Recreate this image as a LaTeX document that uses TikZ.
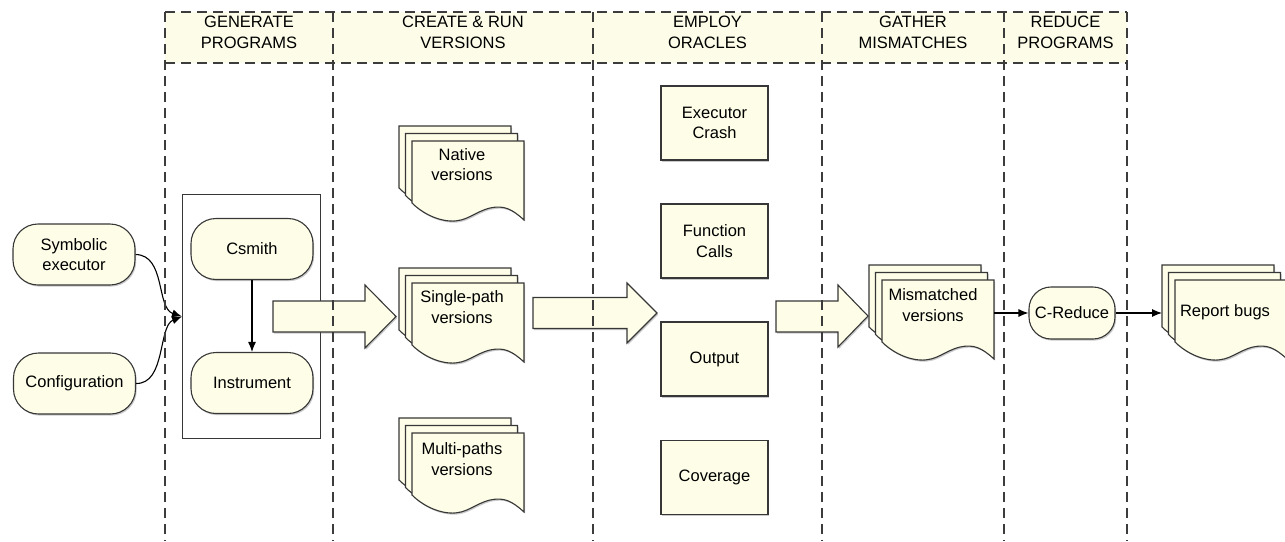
\documentclass[tikz,border=0pt]{standalone}
\usepackage{fontspec}
\setmainfont{Liberation Sans}
\usetikzlibrary{arrows.meta,shadows}

\definecolor{cream}{RGB}{253,253,232}
\definecolor{headfill}{RGB}{252,252,232}
\definecolor{edge}{RGB}{55,55,55}
\definecolor{lane}{RGB}{60,60,60}

\tikzset{
  txt/.style={font=\fontsize{16.5}{20.5}\selectfont, align=center, text=black},
  soft/.style={drop shadow={shadow xshift=1.2pt, shadow yshift=-1.6pt, opacity=0.3, fill=black!70}},
  shapeline/.style={draw=edge, line width=1.1pt, fill=cream},
  pill/.style={shapeline, soft, txt, rounded corners=25pt, minimum width=122pt, minimum height=61pt, inner sep=0pt},
  oracle/.style={shapeline, soft, txt, minimum width=107pt, minimum height=74pt, inner sep=0pt},
  blockarrow/.style={shapeline, soft},
  sheet/.style={shapeline, soft},
  lanestyle/.style={draw=lane, line width=1.5pt, dash pattern=on 10pt off 6pt},
  conn/.style={draw=black, line width=1.1pt, -{Latex[length=10pt,width=8pt]}},
  frame/.style={draw=edge, line width=1.1pt, inner sep=0pt},
}

% one sheet of a document stack, top-left corner at (#1,#2)
\newcommand\onesheet[2]{%
  \path[sheet] (#1,#2) -- ++(112,0) -- ++(0,79)
    .. controls ++(-12,-11) and ++(14,-3) .. ++(-34,-12)
    .. controls ++(-16,4) and ++(17,1) .. ++(-40,13)
    .. controls ++(-16,-1) and ++(8,8) .. ++(-38,-18) -- cycle;}

% stack of three sheets, front sheet top-left at (#2,#3); nodes #1 and #1-b
\newcommand\docstack[3]{%
  \onesheet{#2-13}{#3-15}
  \onesheet{#2-6.5}{#3-7.5}
  \onesheet{#2}{#3}
  \node[inner sep=0pt, minimum width=112pt, minimum height=79pt, anchor=north west] (#1) at (#2,#3) {};
  \node[inner sep=0pt, minimum width=112pt, minimum height=79pt, anchor=north west] (#1-b) at (#2-13,#3-15) {};}

\begin{document}
\begin{tikzpicture}[x=1pt, y=-1pt]
\useasboundingbox (0,0) rectangle (1285,541);

% lane headers
\fill[headfill] (165,12) rectangle (1127,63);
\node[txt] (h1) at (249,32.5) {GENERATE\\PROGRAMS};
\node[txt] (h2) at (463,32.5) {CREATE \& RUN\\VERSIONS};
\node[txt] (h3) at (707.5,32.5) {EMPLOY\\ORACLES};
\node[txt] (h4) at (913,32.5) {GATHER\\MISMATCHES};
\node[txt] (h5) at (1065.5,32.5) {REDUCE\\PROGRAMS};

% inputs
\node[pill] (sym) at (74,254.5) {Symbolic\\executor};
\node[pill] (conf) at (74.5,383.5) {Configuration};

% generation box
\node[frame, minimum width=138pt, minimum height=244pt, anchor=north west] (gen) at (182,194) {};
\node[pill] (cs) at (252,249) {Csmith};
\node[pill] (ins) at (252,383) {Instrument};
\draw[conn] (cs) -- (ins);

\draw[conn] (sym.east) .. controls (166,255) and (156,308) .. (gen.west);
\draw[conn] (conf.east) .. controls (166,384) and (158,326) .. (gen.west);

% program versions
\docstack{nat}{412}{141}
\docstack{sgl}{412}{283}
\docstack{mul}{412}{433}
\node[txt] (nat-t) at (462,164.5) {Native\\versions};
\node[txt] (sgl-t) at (462,307) {Single-path\\versions};
\node[txt] (mul-t) at (462,459) {Multi-paths\\versions};

% oracles
\node[oracle] (crash) at (714.5,123) {Executor\\Crash};
\node[oracle] (calls) at (714.5,241) {Function\\Calls};
\node[oracle] (out) at (714.5,359) {Output};
\node[oracle] (cov) at (714.5,477.5) {Coverage};

% mismatches and reduction
\docstack{mm}{882}{280}
\node[txt] (mm-t) at (933,305) {Mismatched\\versions};
\node[pill, minimum width=86pt, minimum height=52pt, rounded corners=22pt] (cr) at (1072,313) {C-Reduce};
\docstack{rb}{1175}{280}
\node[txt] (rb-t) at (1225,312) {Report bugs};

\draw[conn] (mm.east |- cr.west) -- (cr.west);
\draw[conn] (cr.east) -- (cr.east -| rb-b.west);

% flow arrows between stages
\path[blockarrow] (273,301) -- (365,301) -- (365,285) -- (396,316.5) -- (365,348) -- (365,332) -- (273,332) -- cycle;
\path[blockarrow] (533,297.5) -- (627,297.5) -- (627,283) -- (657,313) -- (627,343) -- (627,328.5) -- (533,328.5) -- cycle;
\path[blockarrow] (776,301) -- (838,301) -- (838,285) -- (868,316) -- (838,347) -- (838,332) -- (776,332) -- cycle;

% swimlane borders
\draw[lanestyle] (165,12) -- (1127,12);
\draw[lanestyle] (165,63) -- (1127,63);
\foreach \lx in {165,333,593,822,1004,1127}
  \draw[lanestyle] (\lx,12) -- (\lx,541);
\end{tikzpicture}
\end{document}
